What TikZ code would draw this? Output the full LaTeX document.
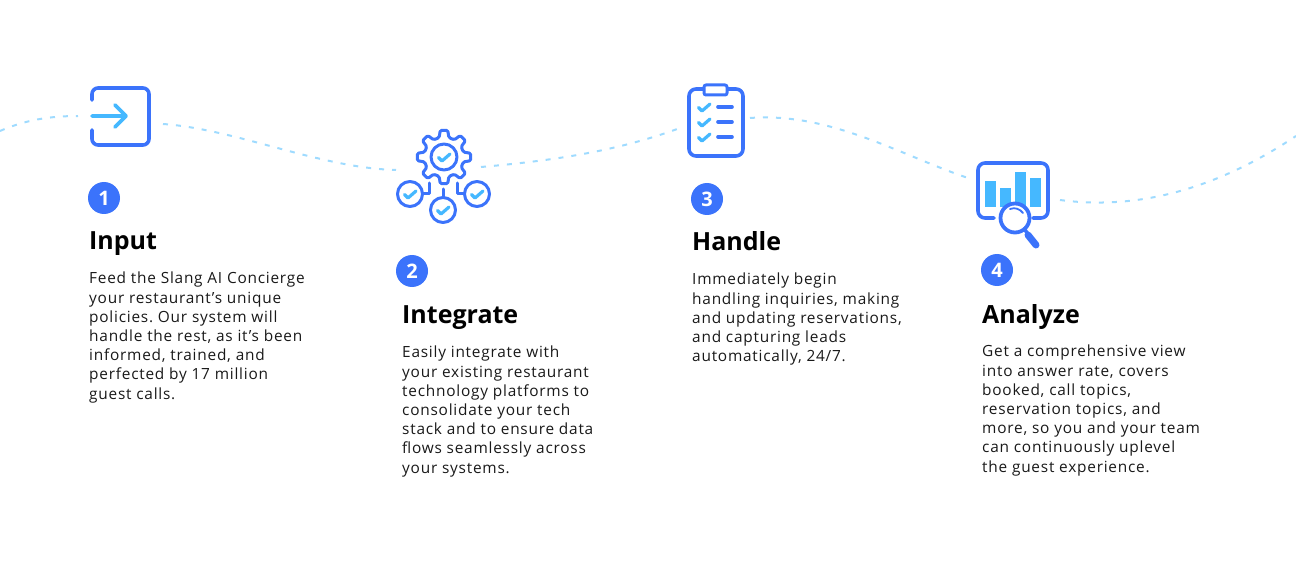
\documentclass[tikz,border=0pt]{standalone}
\usepackage{fontspec}
\setmainfont[LetterSpace=5]{Open Sans}
\newfontfamily\headfont{Open Sans}
\usetikzlibrary{positioning,calc}
\definecolor{iconblue}{HTML}{3B73FB}
\definecolor{iconcyan}{HTML}{45B8FF}
\definecolor{wavecyan}{HTML}{9FDBFF}
\frenchspacing
\tikzset{
    wavepath/.style={draw=wavecyan, line width=2pt, dash pattern=on 5pt off 8pt},
    icon/.style={draw=iconblue, line width=3.6pt, line cap=round, line join=round},
    thinicon/.style={draw=iconblue, line width=3pt, line cap=round, line join=round},
    tick/.style={draw=iconcyan, line width=3.2pt, line cap=round, line join=round},
    bar/.style={fill=iconcyan, draw=none},
    stepbadge/.style={circle, fill=iconblue, text=white, minimum size=32pt, inner sep=0pt,
        font=\headfont\fontsize{20}{20}\selectfont\bfseries},
    steptitle/.style={anchor=base west, inner sep=0pt,
        font=\headfont\fontsize{25}{28}\selectfont\bfseries},
    stepbody/.style={anchor=north west, inner sep=0pt, align=left, text=black!90,
        font=\fontsize{15.4}{19.2}\selectfont},
}
\newcommand{\tickat}[2]{\draw[tick, shift={(#1,#2)}] (-5.5,0.5) -- (-2,4) -- (6,-3);}
\begin{document}
\begin{tikzpicture}[x=1pt, y=-1pt]
    \useasboundingbox (0,0) rectangle (1296,588);

    % Wave behind the icons
    \coordinate (W1a) at (0,131);
    \coordinate (W1b) at (78,116);
    \coordinate (W2a) at (163,124);
    \coordinate (W2b) at (396,170);
    \coordinate (W3a) at (481,167);
    \coordinate (W3b) at (680,128);
    \coordinate (W4a) at (750,118);
    \coordinate (W4b) at (968,178);
    \coordinate (W5a) at (1060,200);
    \coordinate (W5b) at (1296,136);
    \draw[wavepath] (W1a) .. controls (25,120) and (50,116) .. (W1b);
    \draw[wavepath] (W2a) .. controls (235,129) and (320,168) .. (W2b);
    \draw[wavepath] (W3a) .. controls (560,160) and (620,150) .. (W3b);
    \draw[wavepath] (W4a) .. controls (830,112) and (900,155) .. (W4b);
    \draw[wavepath] (W5a) .. controls (1150,212) and (1230,180) .. (W5b);

    % Icon 1
    \draw[icon, rounded corners=6pt] (92,100) -- (92,88) -- (149,88) -- (149,145) -- (92,145) -- (92,130);
    \draw[draw=iconcyan, line width=3.6pt, line cap=round, line join=round]
        (92,116) -- (126,116) (115,105) -- (126,116) -- (115,127);

    % Icon 2
    \begin{scope}[shift={(444,157)}]
        \draw[thinicon, rounded corners=1.5pt] (14:20)
            \foreach \a in {45,90,...,315}{ -- (\a-14:20) -- (\a-8:27) -- (\a+8:27) -- (\a+14:20)}
            -- (346:20) -- (352:27) -- (8:27) -- cycle;
        \draw[thinicon] (0,0) circle (13);
    \end{scope}
    \tickat{444}{157}
    \draw[thinicon] (410,194) circle (12.5);
    \draw[thinicon] (443,210) circle (12.5);
    \draw[thinicon] (477,194) circle (12.5);
    \draw[thinicon] (443,189) -- (443,197);
    \draw[thinicon] (429,183) -- (429,194) -- (423,194);
    \draw[thinicon] (457,183) -- (457,194) -- (464,194);
    \tickat{410}{194}
    \tickat{443}{210}
    \tickat{477}{194}

    % Icon 3
    \draw[icon, rounded corners=7pt] (689,89) rectangle (743,156);
    \draw[thinicon, fill=white, rounded corners=2pt] (704,85) rectangle (727,95);
    \foreach \y in {107,122,137}{
        \tickat{704}{\y}
        \draw[icon] (718,\y) -- (732,\y);
    }

    % Icon 4
    \fill[bar] (985,181) rectangle (996,207);
    \fill[bar] (1000,188) rectangle (1011,207);
    \fill[bar] (1015,172) rectangle (1026,207);
    \fill[bar] (1030,178) rectangle (1041,207);
    \draw[icon, rounded corners=7pt] (994,218) -- (978,218) -- (978,163) -- (1048,163) -- (1048,218) -- (1033,218);
    \draw[draw=iconblue, line width=3.8pt, fill=white] (1015,218) circle (14.5);
    \draw[draw=iconblue, line width=1.8pt, line cap=round] (1010,209) .. controls (1015,207) and (1020,209) .. (1023,213);
    \draw[icon] (1025,230) -- (1028,234);
    \draw[draw=iconblue, line width=7pt, line cap=round] (1028,235) -- (1036,245);

    % Step 1
    \node[stepbadge] (badgeA) at (104,198) {1};
    \node[steptitle] (titleA) at (89,250) {Input};
    \node[stepbody] (bodyA) at (89,272) {Feed the Slang AI Concierge\\your restaurant’s unique\\policies. Our system will\\handle the rest, as it’s been\\informed, trained, and\\perfected by 17 million\\guest calls.};

    % Step 2
    \node[stepbadge] (badgeB) at (412,271) {2};
    \node[steptitle] (titleB) at (402,323) {Integrate};
    \node[stepbody] (bodyB) at (402,346) {Easily integrate with\\your existing restaurant\\technology platforms to\\consolidate your tech\\stack and to ensure data\\flows seamlessly across\\your systems.};

    % Step 3
    \node[stepbadge] (badgeC) at (707,199) {3};
    \node[steptitle] (titleC) at (692,251) {Handle};
    \node[stepbody] (bodyC) at (692,273) {Immediately begin\\handling inquiries, making\\and updating reservations,\\and capturing leads\\automatically, 24/7.};

    % Step 4
    \node[stepbadge] (badgeD) at (997,270) {4};
    \node[steptitle] (titleD) at (982,323) {Analyze};
    \node[stepbody] (bodyD) at (982,345) {Get a comprehensive view\\into answer rate, covers\\booked, call topics,\\reservation topics, and\\more, so you and your team\\can continuously uplevel\\the guest experience.};
\end{tikzpicture}
\end{document}
